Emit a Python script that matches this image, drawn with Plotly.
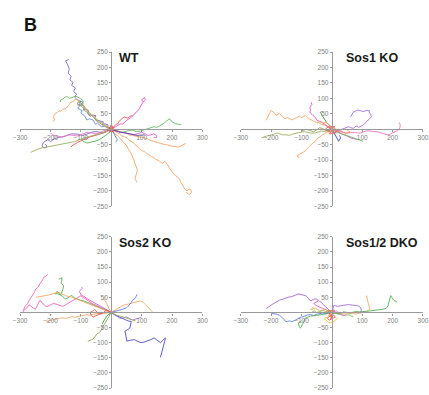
import plotly.graph_objects as go

# ---------------- data (micrometres; every track starts at the origin) ----------------
wt_colors = ["#8060c8", "#6a86e0", "#62b862", "#f5a262", "#9aab55", "#dd55cc", "#e85050",
             "#62b862", "#f5a262", "#f5a262", "#f5a262", "#8060c8", "#ee6fbf", "#e85050",
             "#4fae4f", "#9aab55", "#dd55cc", "#4a7fe0", "#5040a8", "#e85050"]
wt_tracks = [
    [(0,0),(-6,6),(-14,4),(-10,14),(-22,18),(-30,14),(-26,24),(-40,28),(-48,26),(-55,36),(-50,44),(-62,46),(-70,42),(-78,52),(-74,60),(-85,66),(-92,62),(-88,74),(-98,80),(-106,78),(-100,90),(-112,96),(-120,104),(-114,114),(-124,122),(-118,134),(-130,142),(-126,152),(-136,160),(-132,172),(-142,182),(-138,196),(-145,212),(-150,222),(-140,226)],
    [(0,0),(-10,4),(-20,10),(-32,8),(-45,20),(-52,16),(-60,30),(-72,34),(-80,30),(-88,44),(-100,52),(-96,60),(-110,68),(-104,76),(-112,84),(-100,92),(-92,86),(-96,76)],
    [(0,0),(-10,8),(-20,12),(-28,20),(-38,22),(-46,32),(-55,35),(-62,44),(-72,48),(-80,56),(-88,60),(-92,70),(-100,75),(-96,84),(-92,92),(-102,100),(-108,104),(-118,108),(-126,104),(-138,100),(-146,106),(-152,104),(-160,98),(-166,96),(-168,88)],
    [(0,0),(-8,6),(-15,10),(-24,14),(-32,22),(-40,24),(-48,30),(-54,40),(-62,45),(-70,52),(-75,58),(-84,62),(-90,70),(-94,80),(-100,85),(-106,92),(-112,95),(-118,98),(-122,92),(-128,88),(-135,86),(-140,78),(-148,68),(-154,66),(-160,64),(-166,58),(-172,60),(-178,54),(-183,52),(-188,46),(-190,40),(-186,30),(-192,26)],
    [(0,0),(-15,5),(-30,15),(-45,25),(-60,40),(-75,55),(-85,70),(-95,82),(-108,90),(-112,80),(-100,76)],
    [(0,0),(8,6),(15,8),(22,14),(30,18),(36,16),(42,22),(50,28),(55,32),(62,36),(68,40),(74,46),(78,52),(84,56),(88,60),(92,66),(95,72),(98,78),(100,84),(104,88),(108,90),(112,96),(110,102),(104,100),(100,94),(106,90)],
    [(0,0),(6,8),(10,10),(16,16),(22,18),(26,26),(30,30),(36,34),(42,40),(48,38),(55,36),(62,42),(70,45)],
    [(0,0),(10,-4),(20,-5),(32,-10),(45,-8),(58,-4),(70,-3),(82,-8),(95,-6),(108,-2),(120,2),(130,6),(140,8),(150,6),(160,12),(168,16),(175,20),(180,26),(185,28),(190,34),(196,30),(200,24),(206,20),(212,18),(222,16),(230,15)],
    [(0,0),(8,-4),(18,-10),(26,-14),(35,-22),(44,-24),(55,-30),(62,-38),(72,-42),(78,-50),(85,-55),(90,-62),(95,-65),(102,-70),(110,-72),(118,-80),(125,-85),(132,-88),(140,-92),(148,-98),(158,-102),(164,-108),(170,-110),(175,-104),(178,-105),(184,-114),(190,-122),(194,-132),(202,-140),(206,-146),(212,-150),(218,-156),(225,-162),(228,-170),(232,-178),(236,-184),(240,-190),(244,-196),(250,-200),(256,-194),(262,-196),(264,-204),(258,-212),(252,-208),(245,-205)],
    [(0,0),(12,-4),(25,-8),(36,-10),(48,-12),(58,-18),(70,-20),(82,-22),(95,-25),(106,-28),(118,-30),(128,-36),(140,-40),(150,-42),(160,-45),(170,-48),(180,-50),(190,-53),(200,-55),(210,-56),(218,-58),(226,-56),(235,-52),(240,-48),(245,-46)],
    [(0,0),(6,-8),(12,-15),(20,-20),(28,-28),(34,-34),(40,-40),(46,-48),(52,-55),(55,-62),(60,-68),(64,-76),(68,-85),(72,-92),(75,-100),(78,-110),(80,-118),(84,-125),(86,-132),(84,-140),(82,-148),(80,-154),(78,-160),(82,-166),(84,-172)],
    [(0,0),(-15,-6),(-30,-12),(-45,-8),(-60,-8),(-75,-14),(-95,-20),(-110,-16),(-130,-15),(-145,-20),(-160,-25),(-172,-26),(-185,-30),(-195,-36),(-200,-40),(-206,-36),(-210,-35),(-216,-38),(-222,-42),(-226,-48),(-228,-55),(-222,-60),(-215,-60),(-212,-54),(-218,-48)],
    [(0,0),(-12,-2),(-25,-5),(-38,-10),(-50,-15),(-65,-12),(-80,-10),(-95,-16),(-110,-22),(-125,-20),(-140,-18),(-152,-22),(-165,-25),(-178,-22),(-190,-20),(-196,-16),(-200,-12)],
    [(0,0),(-10,-6),(-20,-10),(-32,-14),(-45,-18),(-58,-20),(-70,-25),(-80,-30),(-90,-35),(-100,-38),(-110,-42),(-118,-46),(-125,-50),(-130,-54),(-132,-58)],
    [(0,0),(-6,-10),(-15,-18),(-24,-24),(-32,-30),(-40,-34),(-50,-38),(-58,-40),(-65,-42),(-72,-44),(-80,-45),(-86,-42),(-92,-40),(-96,-36),(-98,-32)],
    [(0,0),(-20,-8),(-40,-15),(-60,-20),(-80,-25),(-100,-32),(-120,-40),(-140,-44),(-160,-48),(-180,-52),(-200,-55),(-218,-58),(-235,-62),(-245,-66),(-255,-70),(-260,-72),(-265,-75)],
    [(0,0),(12,-4),(25,-8),(38,-10),(50,-12),(62,-16),(75,-18),(88,-14),(100,-10),(110,-14),(120,-20),(130,-18),(140,-15),(145,-18),(150,-22),(148,-28),(140,-26)],
    [(0,0),(4,-6),(8,-12),(12,-18),(15,-25),(18,-30),(20,-35),(16,-40),(18,-42)],
    [(0,0),(15,-5),(30,-10),(45,-12),(60,-15),(72,-18),(85,-20),(98,-19),(110,-18)],
    [(0,0),(-8,5),(5,10),(-12,-3),(8,-8),(-4,12),(10,4),(-6,-10),(3,6)],
]

s1_colors = ["#f5a262", "#f5a262", "#9aab55", "#dd55cc", "#3f8f3f", "#9a6ad8", "#ee6fbf",
             "#3a3ac0", "#dd55cc", "#62b862", "#e85050", "#8a9a50", "#f08a40", "#f5a262"]
s1_tracks = [
    [(0,0),(-10,6),(-24,14),(-34,16),(-45,22),(-56,24),(-67,29),(-74,34),(-80,38),(-88,45),(-94,42),(-100,38),(-106,42),(-110,40),(-116,36),(-122,34),(-131,30),(-138,34),(-145,38),(-150,36),(-157,35),(-162,40),(-165,45),(-170,48),(-173,51),(-178,48),(-184,45),(-188,52),(-192,55),(-196,60),(-200,61),(-204,54),(-208,45),(-212,36),(-216,29)],
    [(0,0),(-5,-4),(-10,-6),(-16,-10),(-24,-13),(-30,-18),(-35,-20),(-40,-26),(-46,-28),(-52,-35),(-55,-40),(-62,-44),(-67,-50),(-72,-55),(-78,-60),(-84,-66),(-88,-71),(-94,-74),(-100,-78),(-106,-82),(-115,-86),(-112,-90),(-108,-92)],
    [(0,0),(-12,-4),(-24,-7),(-35,-6),(-45,-10),(-56,-12),(-67,-13),(-78,-10),(-90,-8),(-105,-10),(-120,-13),(-130,-16),(-140,-20),(-150,-18),(-163,-18),(-172,-14),(-180,-12),(-188,-15),(-195,-18),(-205,-20),(-215,-22),(-224,-25),(-232,-28)],
    [(0,0),(-8,6),(-15,12),(-25,18),(-35,24),(-42,26),(-50,30),(-53,36),(-56,40),(-60,44),(-65,48),(-70,52),(-72,56),(-70,62),(-72,68),(-70,75),(-66,80),(-68,86),(-67,88)],
    [(0,0),(-5,8),(-10,15),(-16,20),(-22,28),(-26,34),(-30,40),(-33,46),(-35,50),(-38,55),(-34,58)],
    [(0,0),(10,-4),(20,-5),(30,-2),(40,2),(48,4),(55,8),(62,5),(71,3),(76,8),(82,10),(88,6),(93,8),(100,12),(105,15),(110,20),(114,24),(120,30),(124,35),(128,38),(130,40),(128,48),(122,56),(124,60),(118,62),(114,61),(106,58),(100,58),(93,61),(86,62),(80,60),(74,58),(71,56),(66,48),(62,40)],
    [(0,0),(12,-5),(25,-8),(38,-10),(50,-12),(62,-11),(75,-10),(84,-12),(93,-13),(104,-8),(115,-5),(128,-6),(138,-8),(146,-7),(155,-10),(165,-12),(175,-16),(188,-18),(196,-14),(205,-10),(212,-6),(220,-2),(224,4),(225,14),(222,22)],
    [(0,0),(5,-8),(10,-15),(14,-22),(18,-28),(20,-34),(22,-39),(26,-34),(29,-28),(27,-24),(25,-20)],
    [(0,0),(10,-5),(20,-10),(30,-14),(40,-18),(50,-22),(61,-28),(66,-30),(72,-30),(78,-32),(82,-34)],
    [(0,0),(15,-8),(30,-15),(42,-18),(55,-22),(68,-26),(80,-30),(92,-34),(103,-39)],
    [(0,0),(-10,-4),(-15,-5),(-5,6),(10,8),(-8,10),(-20,2),(-12,-8),(15,-10),(6,-14),(-8,-15),(5,5),(12,2)],
    [(0,0),(-10,-3),(-20,-5),(-30,2),(-40,5),(-50,-2),(-60,-8),(-72,-4),(-85,0),(-92,-3),(-100,-5)],
    [(0,0),(8,-4),(15,-8),(22,-6),(30,-5),(38,-10),(45,-14),(52,-12),(60,-10),(55,-6),(50,-3)],
    [(0,0),(-5,10),(-12,18),(-20,22),(-30,20),(-40,25),(-48,20)],
]

s2_colors = ["#ee5fb8", "#4fae4f", "#dd55cc", "#f5a262", "#f5a262", "#f5a262", "#4545c0",
             "#5a7ae0", "#8a9a50", "#e85050", "#9a6ad8", "#9aab55", "#f5a262", "#3f8f3f"]
s2_tracks = [
    [(0,0),(-10,6),(-20,10),(-30,14),(-40,20),(-50,24),(-60,28),(-70,34),(-80,40),(-90,48),(-100,55),(-108,50),(-115,45),(-122,40),(-130,35),(-138,30),(-145,28),(-152,24),(-160,20),(-168,22),(-175,25),(-182,28),(-190,30),(-198,26),(-205,22),(-210,20),(-215,20),(-222,26),(-228,32),(-232,38),(-235,40),(-240,30),(-245,20),(-250,10),(-256,14),(-262,18),(-266,22),(-270,25),(-276,18),(-282,12),(-286,8),(-290,3),(-288,10),(-285,18),(-280,24),(-275,30),(-270,40),(-266,46),(-262,50),(-258,56),(-255,62),(-252,68),(-250,75),(-246,78),(-243,82),(-240,86),(-238,90),(-234,96),(-230,102),(-226,108),(-222,116),(-218,118),(-215,120),(-212,123),(-209,126)],
    [(0,0),(-10,4),(-20,8),(-30,12),(-40,15),(-50,20),(-60,25),(-70,30),(-80,35),(-90,38),(-100,40),(-108,42),(-114,45),(-120,48),(-125,52),(-130,56),(-135,54),(-140,50),(-146,46),(-152,45),(-158,50),(-165,58),(-172,60),(-178,62),(-184,61),(-182,66),(-178,70),(-172,64),(-168,56),(-164,62),(-160,72),(-158,80),(-157,88),(-160,92),(-165,98),(-163,105),(-162,115),(-168,112),(-173,110)],
    [(0,0),(-12,8),(-25,15),(-38,22),(-50,28),(-60,34),(-70,40),(-78,45),(-85,50),(-92,54),(-98,56),(-102,62),(-105,70),(-100,75),(-95,80),(-98,84)],
    [(0,0),(-15,6),(-30,12),(-45,16),(-60,22),(-75,28),(-90,35),(-105,42),(-120,48),(-135,52),(-150,55),(-162,62),(-173,67),(-184,64),(-195,60),(-205,58),(-215,56),(-225,54),(-235,52),(-242,50),(-247,50)],
    [(0,0),(10,6),(20,12),(30,18),(40,24),(50,26),(60,28),(70,32),(82,34),(88,36),(95,38),(100,36),(104,34),(110,28),(118,20),(125,12),(130,6),(136,2)],
    [(0,0),(-10,-2),(-20,-3),(-32,-2),(-45,-3),(-58,-6),(-70,-10),(-80,-8),(-88,-9),(-100,-12),(-110,-15),(-120,-16),(-130,-14),(-140,-18),(-150,-20),(-160,-18),(-173,-19),(-184,-22),(-195,-25),(-205,-28),(-215,-30)],
    [(0,0),(3,-3),(12,-8),(24,-14),(34,-20),(45,-25),(55,-28),(66,-30),(64,-40),(61,-52),(52,-58),(45,-62),(48,-75),(50,-85),(51,-95),(62,-92),(77,-90),(88,-96),(98,-100),(108,-98),(120,-95),(130,-90),(141,-84),(150,-92),(162,-100),(170,-92),(178,-84),(176,-95),(173,-106),(170,-116),(168,-127),(165,-138),(162,-148)],
    [(0,0),(10,2),(20,5),(28,8),(35,10),(42,12),(50,15),(55,20),(60,25),(65,32),(70,40),(75,44),(80,48),(82,54),(85,60)],
    [(0,0),(-4,-8),(-10,-15),(-16,-28),(-24,-41),(-30,-52),(-35,-62),(-42,-68),(-48,-72),(-52,-78),(-56,-84),(-60,-88),(-65,-90),(-70,-92),(-77,-95)],
    [(0,0),(-10,6),(-20,5),(-30,-5),(-40,-5),(-48,4),(-55,10),(-62,4),(-70,0),(-65,-10),(-60,-15),(-52,-12),(-45,-8),(-30,-2)],
    [(0,0),(8,-5),(15,-10),(22,-15),(30,-20),(40,-18),(50,-15),(60,-20),(70,-25),(80,-22),(90,-20),(96,-17),(100,-15)],
    [(0,0),(10,-5),(20,-10),(30,-12),(40,-15),(50,-18),(60,-22),(70,-25),(80,-28)],
    [(0,0),(-5,8),(-10,15),(-12,22),(-15,30),(-20,38),(-25,45),(-22,50),(-20,55)],
    [(0,0),(-8,-6),(-15,-12),(-20,-20),(-25,-30),(-30,-38)],
]

dko_colors = ["#a060d0", "#5a7ae0", "#4fae4f", "#f5a262", "#4fae4f", "#9a6ad8", "#dd55cc",
              "#f0b050", "#e85050", "#7ac060", "#e8c040", "#ee6fbf", "#9aab55"]
dko_tracks = [
    [(0,0),(-8,6),(-14,13),(-20,18),(-25,22),(-30,28),(-35,34),(-40,36),(-45,40),(-50,44),(-56,45),(-60,42),(-65,42),(-68,38),(-72,40),(-76,46),(-80,50),(-84,54),(-88,56),(-94,57),(-100,58),(-105,60),(-110,61),(-118,58),(-125,55),(-132,52),(-141,51),(-148,48),(-155,45),(-162,44),(-168,42),(-173,40),(-180,35),(-188,30),(-194,28),(-200,24),(-205,20),(-210,18),(-214,15),(-216,13)],
    [(0,0),(-10,-3),(-20,-5),(-30,-2),(-40,-3),(-50,-6),(-60,-10),(-70,-7),(-80,-8),(-88,-12),(-95,-14),(-102,-16),(-110,-19),(-115,-22),(-120,-25),(-125,-28),(-131,-30),(-136,-29),(-140,-28),(-146,-30),(-152,-30),(-158,-22),(-165,-15),(-170,-11),(-173,-9),(-180,-6),(-185,-5),(-192,-4),(-200,-3)],
    [(0,0),(-12,-3),(-25,-5),(-38,-8),(-50,-10),(-60,-11),(-70,-12),(-80,-16),(-88,-19),(-90,-25),(-92,-30),(-95,-38),(-98,-46),(-102,-50),(-104,-52),(-108,-45),(-110,-35),(-105,-30),(-100,-28)],
    [(0,0),(10,-2),(20,-3),(30,-4),(40,-5),(50,-4),(60,-3),(70,-4),(80,-5),(90,-3),(100,-2),(105,-1),(110,0),(114,3),(118,5),(122,8),(125,10),(124,15),(122,20),(121,25),(120,30),(118,38),(117,45),(115,50),(114,56)],
    [(0,0),(10,-3),(20,-5),(30,-2),(39,2),(50,0),(60,-2),(70,1),(80,3),(92,2),(103,2),(114,4),(125,5),(136,6),(146,7),(156,8),(165,10),(172,12),(178,13),(182,18),(185,22),(186,28),(188,34),(190,40),(192,45),(193,50),(194,56),(196,52),(198,48),(201,44),(204,40),(208,38),(210,36),(213,35),(215,34)],
    [(0,0),(3,10),(7,24),(12,22),(20,20),(28,22),(39,24),(47,25),(55,26),(63,25),(71,24),(78,24),(85,22),(90,20),(93,18),(96,12),(98,5),(97,0),(95,-3)],
    [(0,0),(-10,4),(-20,8),(-28,12),(-35,15),(-42,18),(-50,22),(-55,26),(-60,30),(-52,34),(-45,38)],
    [(0,0),(-10,5),(-20,10),(-30,8),(-40,5),(-48,10),(-55,15),(-62,12),(-70,8),(-65,14),(-60,18)],
    [(0,0),(-10,-10),(-5,-15),(10,5),(-15,-20),(-8,-25),(12,-15),(5,-8),(-5,-25),(8,8),(-12,4),(0,-18)],
    [(0,0),(10,-2),(20,-5),(30,-8),(40,-10),(48,-9),(55,-8),(62,-11),(71,-14)],
    [(0,0),(-6,-8),(-12,-15),(-20,-18),(-25,-20),(-20,-25),(-15,-30),(-10,-33),(-5,-35),(3,-32),(10,-28),(15,-22),(20,-18)],
    [(0,0),(8,3),(15,5),(22,0),(30,-5),(35,-9),(40,-12),(44,-8),(48,-5)],
    [(0,0),(-15,3),(-30,6),(-40,3),(-50,0),(-58,5),(-65,2)],
]

panel_titles = ["WT", "Sos1 KO", "Sos2 KO", "Sos1/2 DKO"]
x_ticks = [-300, -200, -100, 100, 200, 300]
y_ticks = [-250, -200, -150, -100, -50, 50, 100, 150, 200, 250]
x_range = [-300, 300]
y_range = [-250, 250]

# ---------------- figure ----------------
fig = go.Figure()

panels = [
    (wt_tracks, wt_colors, "x", "y"),
    (s1_tracks, s1_colors, "x2", "y2"),
    (s2_tracks, s2_colors, "x3", "y3"),
    (dko_tracks, dko_colors, "x4", "y4"),
]
for tracks, cols, xa, ya in panels:
    for pts, c in zip(tracks, cols):
        fig.add_trace(go.Scatter(x=[p[0] for p in pts], y=[p[1] for p in pts], mode="lines",
                                 xaxis=xa, yaxis=ya, line=dict(color=c, width=1),
                                 opacity=0.85, showlegend=False, hoverinfo="skip"))

left_dom = [0.0315, 0.4697]
right_dom = [0.5618, 1.0]
top_dom = [0.4785, 0.8759]
bot_dom = [0.0101, 0.4000]

tickfont = dict(family="Liberation Sans, Arial, sans-serif", size=6.5, color="#808080")


def xax(dom, ydom):
    return dict(domain=dom, range=x_range, anchor="free", position=(ydom[0] + ydom[1]) / 2,
                tickvals=x_ticks, ticks="outside", ticklen=2, tickcolor="#9a9a9a",
                showline=True, linecolor="#9a9a9a", linewidth=1.2, showgrid=False,
                zeroline=False, tickfont=tickfont, fixedrange=True)


def yax(dom, xdom):
    return dict(domain=dom, range=y_range, anchor="free", position=(xdom[0] + xdom[1]) / 2,
                tickvals=y_ticks, ticks="outside", ticklen=2, tickcolor="#9a9a9a",
                showline=True, linecolor="#9a9a9a", linewidth=1.2, showgrid=False,
                zeroline=False, tickfont=tickfont, fixedrange=True)


fig.update_layout(
    width=429, height=395, margin=dict(l=0, r=0, t=0, b=0),
    paper_bgcolor="white", plot_bgcolor="white",
    xaxis=xax(left_dom, top_dom), yaxis=yax(top_dom, left_dom),
    xaxis2=xax(right_dom, top_dom), yaxis2=yax(top_dom, right_dom),
    xaxis3=xax(left_dom, bot_dom), yaxis3=yax(bot_dom, left_dom),
    xaxis4=xax(right_dom, bot_dom), yaxis4=yax(bot_dom, right_dom),
)

title_font = dict(family="Liberation Sans, Arial, sans-serif", size=12.5, color="#1a1a1a")
title_pos = [("x", "y", 20), ("x2", "y2", 40), ("x3", "y3", 20), ("x4", "y4", 40)]
for (xa, ya, tx), t in zip(title_pos, panel_titles):
    fig.add_annotation(x=tx, y=231, xref=xa, yref=ya, text="<b>%s</b>" % t,
                       showarrow=False, xanchor="left", yanchor="middle", font=title_font)

fig.add_annotation(x=0.035, y=0.945, xref="paper", yref="paper", text="<b>B</b>",
                   showarrow=False, xanchor="left", yanchor="middle",
                   font=dict(family="Liberation Sans, Arial, sans-serif", size=18, color="#111111"))

fig.write_html("out.html")
